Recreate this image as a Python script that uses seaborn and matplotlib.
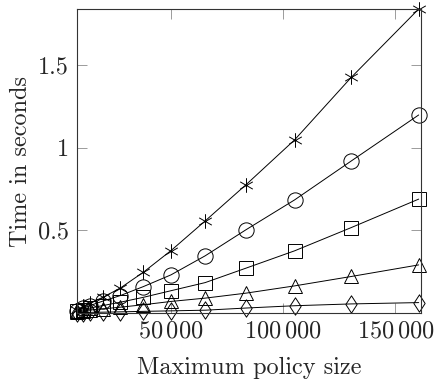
"""Runtime vs. maximum policy size, five series with pgfplots-style markers."""
import matplotlib
matplotlib.use("Agg")
import matplotlib.pyplot as plt
import numpy as np
import pandas as pd
import seaborn as sns
from matplotlib.path import Path

# values
policy_size = [8200, 11000, 14000, 19700, 27400, 37800, 50100,
               65300, 83400, 105100, 130400, 160400]
time_star = [0.020, 0.040, 0.060, 0.095, 0.150, 0.247, 0.378,
             0.557, 0.775, 1.047, 1.426, 1.839]
time_circle = [0.015, 0.030, 0.045, 0.072, 0.105, 0.160, 0.231,
               0.346, 0.503, 0.684, 0.920, 1.198]
time_square = [0.010, 0.020, 0.030, 0.045, 0.065, 0.095, 0.135,
               0.184, 0.271, 0.376, 0.517, 0.689]
time_triangle = [0.008, 0.012, 0.018, 0.025, 0.035, 0.050, 0.070,
                 0.090, 0.120, 0.164, 0.221, 0.291]
time_diamond = [0.002, 0.003, 0.004, 0.005, 0.007, 0.010, 0.013,
                0.017, 0.030, 0.044, 0.055, 0.063]

x_ticks = [50000, 100000, 150000]
x_tick_labels = [r"$50\,000$", r"$100\,000$", r"$150\,000$"]
y_ticks = [0.5, 1, 1.5]
y_tick_labels = ["0.5", "1", "1.5"]

sns.set_style("ticks")
plt.rcParams["font.family"] = ["cmr10", "DejaVu Serif"]
plt.rcParams["mathtext.fontset"] = "cm"
plt.rcParams["axes.unicode_minus"] = False

FS = 17.5
LW = 0.7


def _asterisk():
    c, s = np.cos(np.pi / 6), np.sin(np.pi / 6)
    verts = [(0, 1), (0, -1), (c, s), (-c, -s), (c, -s), (-c, s)]
    codes = [Path.MOVETO, Path.LINETO] * 3
    return Path(verts, codes)


def _diamond():
    verts = [(0, 1), (0.65, 0), (0, -1), (-0.65, 0), (0, 1)]
    codes = [Path.MOVETO] + [Path.LINETO] * 3 + [Path.CLOSEPOLY]
    return Path(verts, codes)


series = [
    (time_star, _asterisk(), 10.5),
    (time_circle, "o", 11.0),
    (time_square, "s", 10.5),
    (time_triangle, "^", 9.5),
    (time_diamond, _diamond(), 12.5),
]

fig = plt.figure(figsize=(4.38, 3.87), dpi=100)
ax = fig.add_axes([0.1758, 0.1912, 0.961 - 0.1758, 0.9767 - 0.1912])

for values, marker, ms in series:
    df = pd.DataFrame({"size": policy_size, "time": values})
    sns.lineplot(
        data=df, x="size", y="time", ax=ax,
        color="black", linewidth=LW,
        marker=marker, markersize=ms,
        markerfacecolor="none", markeredgecolor="black",
        markeredgewidth=LW, clip_on=False,
    )

ax.set_xlim(8200, 161400)
ax.set_ylim(0, 1.839)
ax.set_xticks(x_ticks)
ax.set_xticklabels(x_tick_labels)
ax.set_yticks(y_ticks)
ax.set_yticklabels(y_tick_labels)

ax.tick_params(axis="both", direction="in", length=7, width=0.6,
               color="0.55", labelsize=FS, top=True, right=True)
ax.tick_params(axis="x", pad=5)
ax.tick_params(axis="y", pad=6)
for spine in ax.spines.values():
    spine.set_linewidth(0.8)
    spine.set_color("0.2")

ax.set_xlabel("Maximum policy size", fontsize=FS, labelpad=11)
ax.set_ylabel("Time in seconds", fontsize=FS, labelpad=4)

fig.savefig("out.png", dpi=100)
plt.close(fig)
